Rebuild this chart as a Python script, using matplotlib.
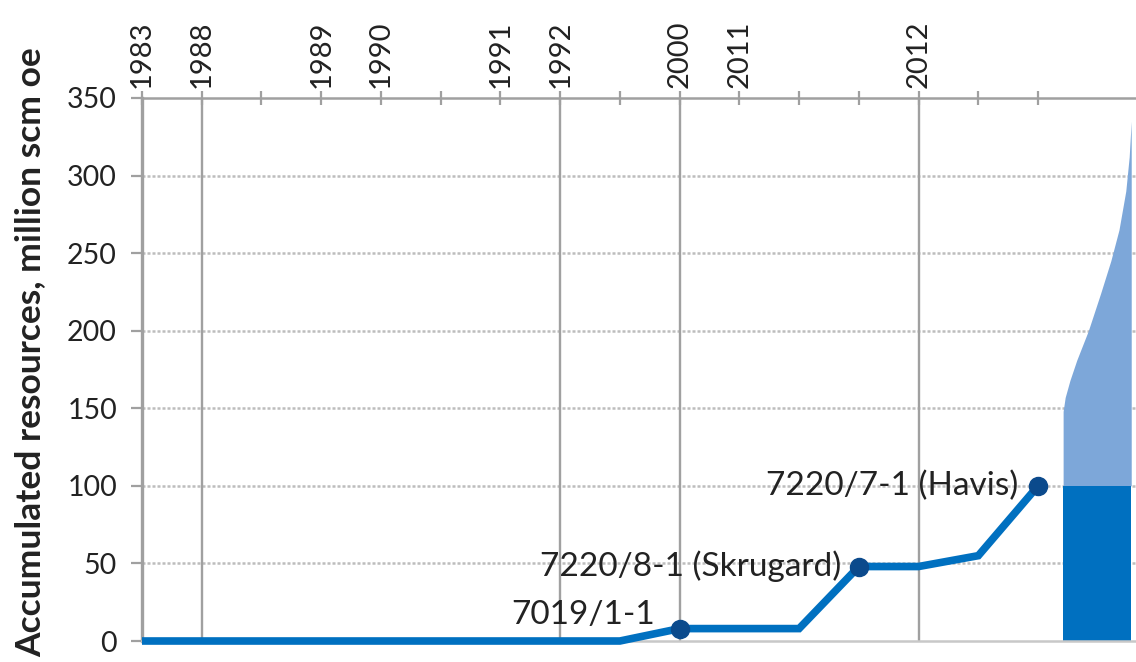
import matplotlib
matplotlib.use("Agg")
import matplotlib.pyplot as plt
import numpy as np

# Exploration wells in drilling order (top axis) and accumulated resources
well_years = ["1983", "1988", "", "1989", "1990", "", "1991", "1992", "",
              "2000", "2011", "", "", "2012", "", ""]
accumulated = [0, 0, 0, 0, 0, 0, 0, 0, 0, 8, 8, 8, 48, 48, 55, 100]

# Named discoveries
discovery_idx = [9, 12, 15]
discovery_names = ["7019/1-1", "7220/8-1 (Skrugard)", "7220/7-1 (Havis)"]

# Wells marking a new year group (vertical guide lines)
year_break_idx = [1, 7, 9, 13]

# Remaining resource estimate: discovered volume plus undiscovered range
discovered_total = 100
dist_fraction = [0.00, 0.03, 0.10, 0.20, 0.37, 0.55, 0.70, 0.82, 0.92,
                 0.97, 1.00]
dist_resources = [148, 157, 168, 181, 200, 224, 245, 265, 290, 312, 335]

y_ticks = [0, 50, 100, 150, 200, 250, 300, 350]

# Colours
LINE_BLUE = "#0070C0"
MARKER_BLUE = "#0B4A8C"
LIGHT_BLUE = "#7DA7D9"
GRID_GREY = "#A0A0A0"
DOT_GREY = "#BDBDBD"
TEXT = "#222222"

plt.rcParams["font.family"] = ["Lato", "DejaVu Sans"]

W, H = 1136, 662
fig = plt.figure(figsize=(W / 100, H / 100), dpi=100)
ax = fig.add_axes([142 / W, 21 / H, 994 / W, 543 / H])

x = np.arange(len(accumulated))
ax.set_xlim(0, 16.64)
ax.set_ylim(0, 350)

# Horizontal dotted gridlines
for yv in y_ticks[1:-1]:
    ax.axhline(yv, color=DOT_GREY, lw=1.8, ls=(0, (1.2, 0.8)), zorder=1)

# Vertical guide lines
for i in year_break_idx:
    ax.axvline(x[i], color=GRID_GREY, lw=1.7, zorder=1.5)

# Resource distribution column right of the wells
bar_left, bar_right = 15.42, 16.56
bw = bar_right - bar_left
xs = [bar_left + f * bw for f in dist_fraction]
ax.fill_between(xs, [discovered_total] * len(xs), dist_resources,
                color=LIGHT_BLUE, lw=0, zorder=2)
ax.fill_between([bar_left, bar_right], 0, discovered_total,
                color=LINE_BLUE, lw=0, zorder=2)

# Accumulated resources line
ax.plot(x, accumulated, color=LINE_BLUE, lw=5.5, solid_joinstyle="miter",
        solid_capstyle="butt", zorder=4, clip_on=False)
dx = [x[i] for i in discovery_idx]
dy = [accumulated[i] for i in discovery_idx]
ax.plot(dx, dy, ls="none", marker="o", ms=13, color=MARKER_BLUE,
        mec=MARKER_BLUE, zorder=5)

# Discovery labels
offsets = [(-18, 3), (-13, 0), (-14, 0)]
vas = ["baseline", "center", "center"]
for i, name, off, va in zip(discovery_idx, discovery_names, offsets, vas):
    ax.annotate(name, (x[i], accumulated[i]), xytext=off,
                textcoords="offset points", ha="right", va=va,
                fontsize=24, color=TEXT, zorder=6)

# Axes styling
ax.spines["right"].set_visible(False)
ax.spines["left"].set_color(GRID_GREY)
ax.spines["left"].set_linewidth(2.4)
ax.spines["top"].set_color(GRID_GREY)
ax.spines["top"].set_linewidth(1.8)
ax.spines["bottom"].set_color("#C8C8C8")
ax.spines["bottom"].set_linewidth(1.8)

ax.xaxis.tick_top()
ax.set_xticks(x)
ax.set_xticklabels(well_years, rotation=90, fontsize=21, color=TEXT)
ax.tick_params(axis="x", direction="inout", length=10, width=1.6,
               color=GRID_GREY, pad=2)
ax.set_yticks(y_ticks)
ax.set_yticklabels([str(v) for v in y_ticks], fontsize=20.5, color=TEXT)
ax.tick_params(axis="y", direction="out", length=8, width=1.6,
               color=GRID_GREY, pad=10)

fig.text(30 / W, 1 - 352 / H, "Accumulated resources, million scm oe",
         rotation=90, ha="center", va="center", fontsize=25.5,
         fontweight="bold", color=TEXT)

fig.savefig("out.png", dpi=100, facecolor="white")
